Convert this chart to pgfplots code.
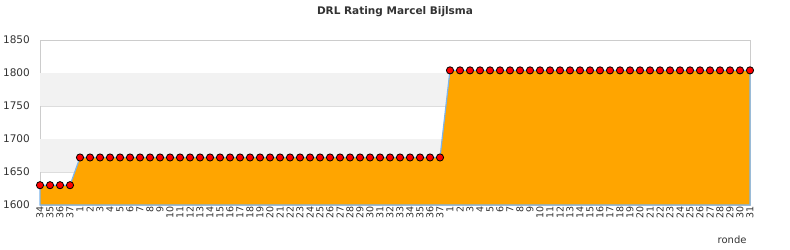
\documentclass[border=0pt]{standalone}
\usepackage{pgfplots}
\pgfplotsset{compat=1.18}
\usepackage{fontspec}
\setmainfont{DejaVu Sans}
\definecolor{bandgray}{HTML}{F2F2F2}
\definecolor{gridgray}{HTML}{DDDDDD}
\definecolor{framegray}{HTML}{CCCCCC}
\definecolor{fillorange}{HTML}{FFA500}
\definecolor{lineblue}{HTML}{7CB5EC}
\definecolor{txt}{HTML}{333333}
\begin{document}
\begin{tikzpicture}
\useasboundingbox (-40bp,-45bp) rectangle (750bp,205bp);
\begin{axis}[
  at={(0,0)}, anchor=south west,
  scale only axis, width=710bp, height=165bp,
  xmin=0, xmax=71, ymin=1600, ymax=1850,
  ytick={1600,1650,...,1850},
  xtick={0,...,71},
  xticklabels={34,35,36,37,1,2,3,4,5,6,7,8,9,10,11,12,13,14,15,16,17,18,19,20,21,22,23,24,25,26,27,28,29,30,31,32,33,34,35,36,37,1,2,3,4,5,6,7,8,9,10,11,12,13,14,15,16,17,18,19,20,21,22,23,24,25,26,27,28,29,30,31},
  xticklabel style={rotate=90, anchor=east, font=\fontsize{9.5bp}{10bp}\selectfont, text=txt, inner sep=1.5bp},
  yticklabel style={font=\fontsize{10.5bp}{11bp}\selectfont, text=txt, anchor=east, inner sep=0pt, xshift=-10bp},
  /pgf/number format/assume math mode=true,
  /pgf/number format/1000 sep={},
  major tick length=0pt,
  ymajorgrids, grid style={gridgray, line width=0.8bp},
  axis line style={framegray, line width=0.8bp},
  clip=false,
]
\fill[bandgray] (axis cs:0,1650) rectangle (axis cs:71,1700);
\fill[bandgray] (axis cs:0,1750) rectangle (axis cs:71,1800);
\addplot[draw=lineblue, line width=1.2bp, fill=fillorange, mark=*, mark size=3.6bp,
  mark options={fill=red, draw=black, line width=0.8bp}] coordinates {
(0,1630) (1,1630) (2,1630) (3,1630)
(4,1672) (5,1672) (6,1672) (7,1672) (8,1672) (9,1672) (10,1672) (11,1672) (12,1672) (13,1672)
(14,1672) (15,1672) (16,1672) (17,1672) (18,1672) (19,1672) (20,1672) (21,1672) (22,1672) (23,1672)
(24,1672) (25,1672) (26,1672) (27,1672) (28,1672) (29,1672) (30,1672) (31,1672) (32,1672) (33,1672)
(34,1672) (35,1672) (36,1672) (37,1672) (38,1672) (39,1672) (40,1672)
(41,1804) (42,1804) (43,1804) (44,1804) (45,1804) (46,1804) (47,1804) (48,1804) (49,1804) (50,1804)
(51,1804) (52,1804) (53,1804) (54,1804) (55,1804) (56,1804) (57,1804) (58,1804) (59,1804) (60,1804)
(61,1804) (62,1804) (63,1804) (64,1804) (65,1804) (66,1804) (67,1804) (68,1804) (69,1804) (70,1804) (71,1804)
} \closedcycle;
\end{axis}
\node[font=\bfseries\fontsize{10.5bp}{12bp}\selectfont, text=txt] at (355bp,193bp) {DRL Rating Marcel Bijlsma};
\node[font=\fontsize{10bp}{12bp}\selectfont, text=txt, anchor=east] at (710bp,-35bp) {ronde};
\end{tikzpicture}
\end{document}
